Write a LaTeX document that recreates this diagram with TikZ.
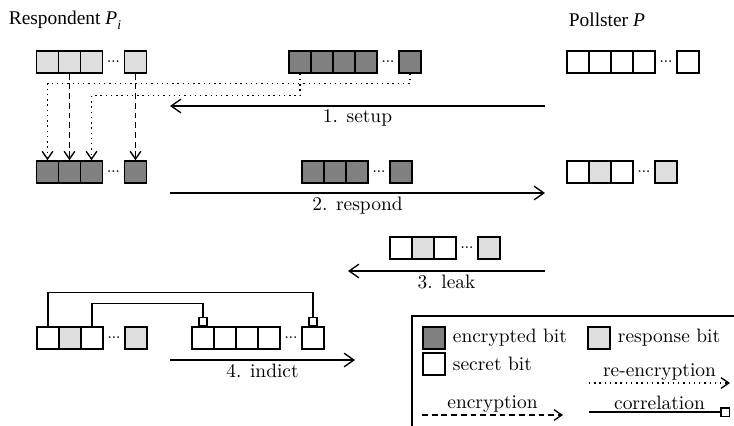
\documentclass[tikz,border=0pt]{standalone}
\usepackage{fontspec}
\newfontfamily\timesfont{Liberation Serif}
\usepackage{tikz}
\usetikzlibrary{positioning, arrows.meta}
\definecolor{encgray}{gray}{0.5}
\definecolor{respgray}{gray}{0.87}
\tikzstyle{bit} = [rectangle, draw=black, line width=0.8pt, minimum size=11.3pt, inner sep=0pt, fill=white]
\tikzstyle{enc} = [bit, fill=encgray]
\tikzstyle{resp} = [bit, fill=respgray]
\tikzstyle{dots} = [inner sep=0pt, font=\fontsize{5.5}{5.5}\selectfont\bfseries]
\tikzstyle{msg} = [line width=0.7pt, -{Straight Barb[length=5pt,width=7pt,line width=0.7pt]}]
\tikzstyle{steplabel} = [below, inner sep=1.5pt]
\tikzstyle{encr} = [line width=0.7pt, dash pattern=on 3pt off 2pt, -{Straight Barb[length=4pt,width=5.5pt,line width=0.7pt]}]
\tikzstyle{reenc} = [line width=0.7pt, dotted, -{Straight Barb[length=4pt,width=5.5pt,line width=0.7pt]}]
\tikzstyle{corr} = [line width=0.7pt, -{Square[fill=white,length=5pt,width=5pt,line width=0.7pt]}]
\tikzstyle{keytext} = [inner sep=1pt]
\tikzstyle{keylabel} = [above, inner sep=1pt]
\begin{document}
\begin{tikzpicture}[x=0.515pt, y=-0.515pt, node distance=11.33pt]
	\clip (0,0) rectangle (734,425);
	%\node(label)[type]{name}
	\node(hdrR)[anchor=west, font=\timesfont] at (2,20) {Respondent \textit{P}\raisebox{-0.6ex}{\scriptsize\textit{i}}};
	\node(hdrP)[anchor=west, font=\timesfont] at (562,20) {Pollster \textit{P}};

	% row 1
	\node(R1a)[resp] at (47.5,62) {};
	\node(R1b)[resp, right of = R1a]{};
	\node(R1c)[resp, right of = R1b]{};
	\node(R1d)[dots, right of = R1c]{...};
	\node(R1e)[resp, right of = R1d]{};

	\node(E1a)[enc] at (300,62) {};
	\node(E1b)[enc, right of = E1a]{};
	\node(E1c)[enc, right of = E1b]{};
	\node(E1d)[enc, right of = E1c]{};
	\node(E1f)[dots, right of = E1d]{...};
	\node(E1e)[enc, right of = E1f]{};

	\node(P1a)[bit] at (578,62) {};
	\node(P1b)[bit, right of = P1a]{};
	\node(P1c)[bit, right of = P1b]{};
	\node(P1d)[bit, right of = P1c]{};
	\node(P1f)[dots, right of = P1d]{...};
	\node(P1e)[bit, right of = P1f]{};

	% row 2
	\node(R2a)[enc] at (47.5,172) {};
	\node(R2b)[enc, right of = R2a]{};
	\node(R2c)[enc, right of = R2b]{};
	\node(R2d)[dots, right of = R2c]{...};
	\node(R2e)[enc, right of = R2d]{};

	\node(E2a)[enc] at (313,172) {};
	\node(E2b)[enc, right of = E2a]{};
	\node(E2c)[enc, right of = E2b]{};
	\node(E2d)[dots, right of = E2c]{...};
	\node(E2e)[enc, right of = E2d]{};

	\node(P2a)[bit] at (578,172) {};
	\node(P2b)[resp, right of = P2a]{};
	\node(P2c)[bit, right of = P2b]{};
	\node(P2d)[dots, right of = P2c]{...};
	\node(P2e)[resp, right of = P2d]{};

	% row 3
	\node(L3a)[bit] at (401,248) {};
	\node(L3b)[resp, right of = L3a]{};
	\node(L3c)[bit, right of = L3b]{};
	\node(L3d)[dots, right of = L3c]{...};
	\node(L3e)[resp, right of = L3d]{};

	% row 4
	\node(R4a)[bit] at (48,338) {};
	\node(R4b)[resp, right of = R4a]{};
	\node(R4c)[bit, right of = R4b]{};
	\node(R4d)[dots, right of = R4c]{...};
	\node(R4e)[resp, right of = R4d]{};

	\node(S4a)[bit] at (203,338) {};
	\node(S4b)[bit, right of = S4a]{};
	\node(S4c)[bit, right of = S4b]{};
	\node(S4d)[bit, right of = S4c]{};
	\node(S4f)[dots, right of = S4d]{...};
	\node(S4e)[bit, right of = S4f]{};

	%messages
	\coordinate(m1s) at (545,106);
	\coordinate(m1e) at (170,106);
	\coordinate(m2s) at (170,193);
	\coordinate(m2e) at (545,193);
	\coordinate(m3s) at (545,271);
	\coordinate(m3e) at (348,271);
	\coordinate(m4s) at (170,360);
	\coordinate(m4e) at (355,360);
	\draw [msg] (m1s) -- node[steplabel]{1. setup} (m1e);
	\draw [msg] (m2s) -- node[steplabel]{2. respond} (m2e);
	\draw [msg] (m3s) -- node[steplabel]{3. leak} (m3e);
	\draw [msg] (m4s) -- node[steplabel]{4. indict} (m4e);

	%arrows
	\draw [encr] (R1b.south) -- (R2b.north);
	\draw [encr] (R1e.south) -- (R2e.north);
	\draw [reenc] (E1e.south) -- ++(0,10) -| (R2a.north);
	\draw [reenc] (E1a.south) -- ++(0,22) -| (R2c.north);
	\draw [corr] (R4a.north) -- ++(0,-34) -| (S4e.north);
	\draw [corr] (R4c.north) -- ++(0,-23) -| (S4a.north);

	%legend
	\draw [line width=0.8pt] (412,316) rectangle (760,450);
	\node(kenc)[enc] at (434,338) {};
	\node(kenct)[keytext, right = 2.5pt of kenc]{encrypted bit};
	\node(kresp)[resp] at (599,338) {};
	\node(krespt)[keytext, right = 2.5pt of kresp]{response bit};
	\node(ksec)[bit] at (434,364) {};
	\node(ksect)[keytext, right = 2.5pt of ksec]{secret bit};
	\coordinate(kr1) at (589,383);
	\coordinate(kr2) at (730,383);
	\draw [reenc] (kr1) -- node[keylabel]{re-encryption} (kr2);
	\coordinate(ke1) at (422,415);
	\coordinate(ke2) at (563,415);
	\draw [encr] (ke1) -- node[keylabel]{encryption} (ke2);
	\coordinate(kc1) at (589,412);
	\coordinate(kc2) at (730,412);
	\draw [corr] (kc1) -- node[keylabel]{correlation} (kc2);
\end{tikzpicture}
\end{document}
